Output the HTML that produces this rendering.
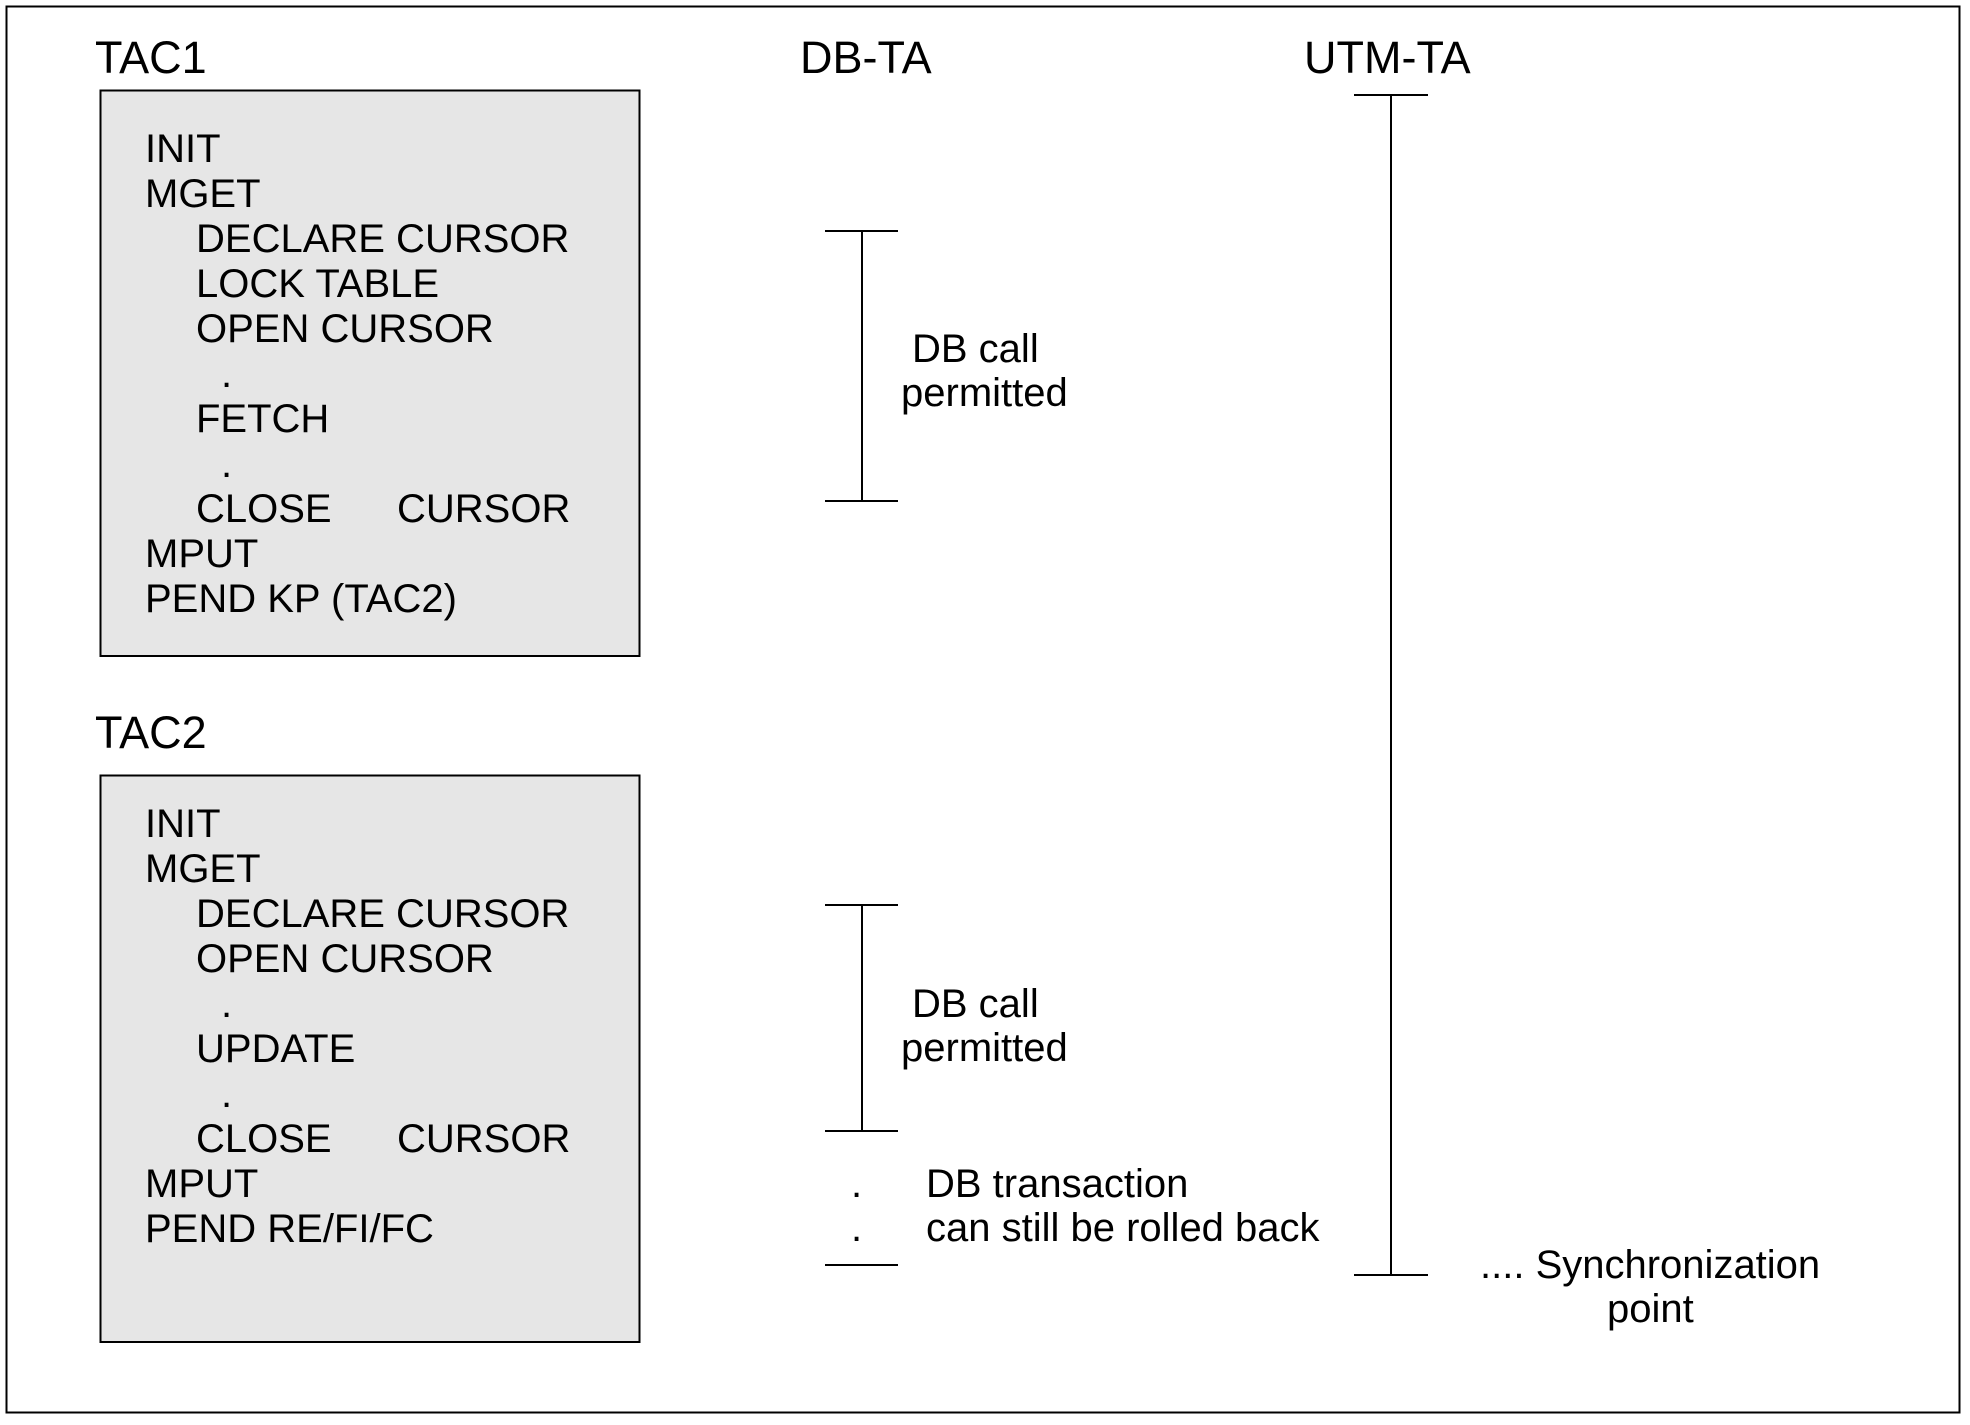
<!DOCTYPE html>
<html><head><meta charset="utf-8"><style>
html,body{margin:0;padding:0;background:#fff;}
svg text{font-family:"Liberation Sans",Arial,sans-serif;font-size:40px;fill:#000;}
</style></head><body>
<svg width="1970" height="1420" xmlns="http://www.w3.org/2000/svg">
<rect x="6.5" y="6.5" width="1953" height="1406" fill="#fff" stroke="#000" stroke-width="2"/>
<text x="95" y="73" style="font-size:45px">TAC1</text>
<text x="800" y="73" style="font-size:45px">DB-TA</text>
<text x="1304" y="73" style="font-size:45px">UTM-TA</text>
<rect x="100.5" y="90.5" width="539" height="565.5" fill="#e6e6e6" stroke="#000" stroke-width="2"/>
<text x="145" y="162">INIT</text>
<text x="145" y="207">MGET</text>
<text x="196" y="252">DECLARE CURSOR</text>
<text x="196" y="297">LOCK TABLE</text>
<text x="196" y="342">OPEN CURSOR</text>
<text x="221" y="387">.</text>
<text x="196" y="432">FETCH</text>
<text x="221" y="477">.</text>
<text x="196" y="522">CLOSE</text><text x="397" y="522">CURSOR</text>
<text x="145" y="567">MPUT</text>
<text x="145" y="612">PEND KP (TAC2)</text>
<text x="95" y="748" style="font-size:45px">TAC2</text>
<rect x="100.5" y="775.5" width="539" height="566.5" fill="#e6e6e6" stroke="#000" stroke-width="2"/>
<text x="145" y="837">INIT</text>
<text x="145" y="882">MGET</text>
<text x="196" y="927">DECLARE CURSOR</text>
<text x="196" y="972">OPEN CURSOR</text>
<text x="221" y="1017">.</text>
<text x="196" y="1062">UPDATE</text>
<text x="221" y="1107">.</text>
<text x="196" y="1152">CLOSE</text><text x="397" y="1152">CURSOR</text>
<text x="145" y="1197">MPUT</text>
<text x="145" y="1242">PEND RE/FI/FC</text>
<g stroke="#000" stroke-width="2">
<line x1="862" y1="231" x2="862" y2="501"/><line x1="825" y1="231" x2="898" y2="231"/><line x1="825" y1="501" x2="898" y2="501"/>
<line x1="862" y1="905" x2="862" y2="1131"/><line x1="825" y1="905" x2="898" y2="905"/><line x1="825" y1="1131" x2="898" y2="1131"/>
<line x1="825" y1="1265" x2="898" y2="1265"/>
<line x1="1391" y1="95" x2="1391" y2="1275"/><line x1="1354" y1="95" x2="1428" y2="95"/><line x1="1354" y1="1275" x2="1428" y2="1275"/>
</g>
<text x="912" y="362">DB call</text>
<text x="901" y="406">permitted</text>
<text x="912" y="1017">DB call</text>
<text x="901" y="1061">permitted</text>
<text x="851" y="1197">.</text>
<text x="851" y="1241">.</text>
<text x="926" y="1197">DB transaction</text>
<text x="926" y="1241">can still be rolled back</text>
<text x="1480" y="1278">.... Synchronization</text>
<text x="1607" y="1322">point</text>
</svg>
</body></html>
